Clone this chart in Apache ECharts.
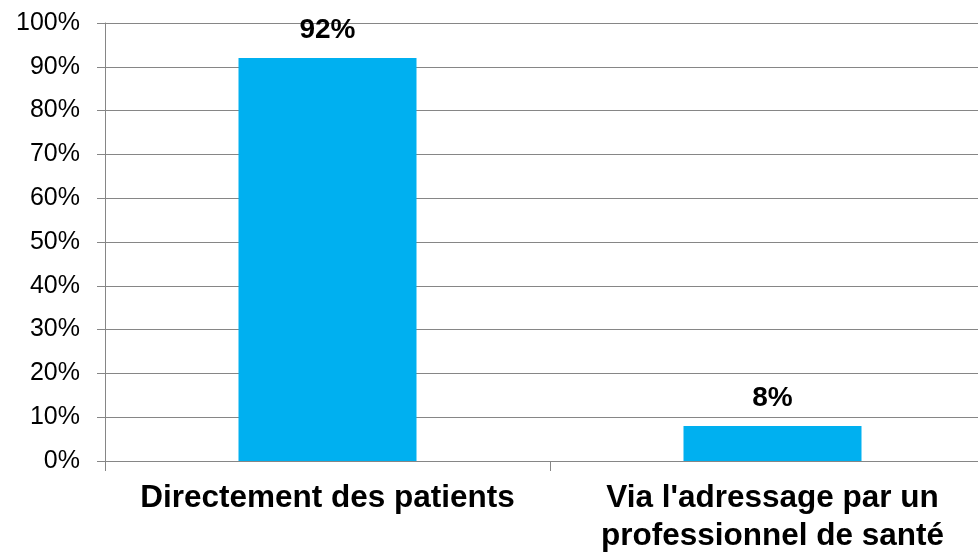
<!DOCTYPE html>
<html><head><meta charset="utf-8">
<script src="https://cdn.jsdelivr.net/npm/echarts@6/dist/echarts.min.js"></script>
<style>html,body{margin:0;padding:0;background:#fff;overflow:hidden}#c{width:995px;height:553px}</style>
</head><body><div id="c"></div>
<script>
const categories = ["Directement des patients", "Via l'adressage par un\nprofessionnel de santé"];
const values = [92, 8];
const yTicks = [0, 10, 20, 30, 40, 50, 60, 70, 80, 90, 100];

const chart = echarts.init(document.getElementById('c'), null, {renderer: 'canvas'});
chart.setOption({
  animation: false,
  grid: {left: 105, right: 0, top: 23, bottom: 92, containLabel: false, outerBoundsMode: 'none'},
  xAxis: {
    type: 'category', data: categories,
    axisLine: {lineStyle: {color: '#868686', width: 1}},
    axisTick: {show: true, length: 10, lineStyle: {color: '#868686'}},
    axisLabel: {color: '#000', fontFamily: 'Liberation Sans, Arial', fontWeight: 'bold', fontSize: 31.5, lineHeight: 38, margin: 18, interval: 0}
  },
  yAxis: {
    type: 'value', min: 0, max: 100, interval: 10,
    axisLine: {show: true, lineStyle: {color: '#868686', width: 1}},
    axisTick: {show: true, length: 8, lineStyle: {color: '#868686'}},
    splitLine: {lineStyle: {color: '#868686', width: 1}},
    axisLabel: {color: '#000', fontFamily: 'Liberation Sans, Arial', fontSize: 25, margin: 25,
      formatter: v => yTicks.includes(v) ? v + '%' : ''}
  },
  series: [{
    type: 'bar', data: values, barWidth: '40%',
    itemStyle: {color: '#00B0F0'},
    label: {show: true, position: 'top', distance: 14, color: '#000', fontFamily: 'Liberation Sans, Arial', fontWeight: 'bold', fontSize: 28, formatter: p => p.value + '%'}
  }]
});
</script></body></html>
